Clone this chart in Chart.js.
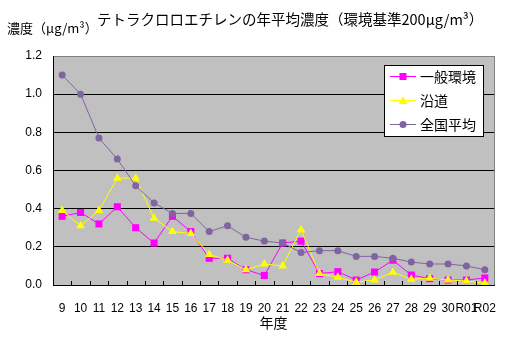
<!DOCTYPE html>
<html>
<head>
<meta charset="utf-8">
<script src="https://cdn.jsdelivr.net/npm/chart.js@4.4.0/dist/chart.umd.min.js"></script>
<style>
    body { margin: 0; background: #fff; }
    #wrap { position: relative; width: 507px; height: 337px; }
    .txt { position: absolute; font-family: "Noto Sans CJK JP", sans-serif; color: #000; line-height: 1; white-space: nowrap; }
    #title { left: 97px; top: 12px; font-size: 14.5px; }
    #ylabel { left: 7px; top: 21px; font-size: 13px; }
</style>
</head>
<body>
<div id="wrap">
    <canvas id="ProgressChart" width="507" height="337"></canvas>
    <div id="title" class="txt">テトラクロロエチレンの年平均濃度（環境基準200μg/m³）</div>
    <div id="ylabel" class="txt">濃度（μg/m³）</div>
</div>
<script>
const years = ["9", "10", "11", "12", "13", "14", "15", "16", "17", "18", "19", "20",
    "21", "22", "23", "24", "25", "26", "27", "28", "29", "30", "R01", "R02"];
const general = [0.36, 0.38, 0.32, 0.41, 0.30, 0.22, 0.36, 0.28, 0.14, 0.14, 0.08, 0.05,
    0.22, 0.23, 0.06, 0.07, 0.026, 0.068, 0.13, 0.052, 0.033, 0.026, 0.026, 0.037];
const roadside = [0.39, 0.31, 0.39, 0.56, 0.56, 0.35, 0.28, 0.27, 0.16, 0.13, 0.08, 0.11,
    0.10, 0.29, 0.06, 0.04, 0.015, 0.026, 0.067, 0.03, 0.035, 0.026, 0.021, 0.009];
const national = [1.10, 1.00, 0.77, 0.66, 0.52, 0.43, 0.375, 0.375, 0.28, 0.31, 0.25, 0.23,
    0.22, 0.17, 0.18, 0.18, 0.15, 0.15, 0.14, 0.12, 0.11, 0.11, 0.10, 0.08];
const yTicks = [0, 0.2, 0.4, 0.6, 0.8, 1.0, 1.2];

const jpFont = '"Noto Sans CJK JP", sans-serif';
const numFont = '"Liberation Sans", Arial, sans-serif';

// grey plot area, right border, inward ticks on the x axis
const plotDecor = {
    id: "plotDecor",
    beforeDraw(chart) {
        const { ctx, chartArea: a } = chart;
        ctx.save();
        ctx.fillStyle = "#c0c0c0";
        ctx.fillRect(a.left, a.top, a.right - a.left, a.bottom - a.top);
        ctx.restore();
    },
    afterDraw(chart) {
        const { ctx, chartArea: a } = chart;
        const x = chart.scales.x;
        ctx.save();
        ctx.strokeStyle = "#808080";
        ctx.lineWidth = 1;
        ctx.beginPath();
        ctx.moveTo(Math.round(a.right) + 0.5, a.top);
        ctx.lineTo(Math.round(a.right) + 0.5, a.bottom);
        ctx.stroke();
        ctx.strokeStyle = "#000";
        ctx.beginPath();
        for (let i = 1; i < years.length; i++) {
            const px = Math.round((x.getPixelForTick(i - 1) + x.getPixelForTick(i)) / 2) + 0.5;
            ctx.moveTo(px, a.bottom);
            ctx.lineTo(px, a.bottom - 4);
        }
        ctx.stroke();
        ctx.restore();
    }
};

// boxed legend inside the plot, top right
const boxLegend = {
    id: "boxLegend",
    afterDraw(chart) {
        const { ctx, chartArea: a } = chart;
        const w = 99, h = 71;
        const left = Math.round(a.right) - 11 - w, top = Math.round(a.top) + 9;
        ctx.save();
        ctx.fillStyle = "#fff";
        ctx.fillRect(left, top, w, h);
        ctx.strokeStyle = "#000";
        ctx.lineWidth = 1;
        ctx.strokeRect(left + 0.5, top + 0.5, w, h);
        chart.data.datasets.forEach((ds, i) => {
            const y = top + 11 + i * 24;
            ctx.strokeStyle = ds.borderColor;
            ctx.beginPath();
            ctx.moveTo(left + 6, y + 0.5);
            ctx.lineTo(left + 32, y + 0.5);
            ctx.stroke();
            ctx.fillStyle = ds.pointBackgroundColor;
            const cx = left + 19;
            if (ds.pointStyle === "rect") {
                ctx.fillRect(cx - 3.5, y - 3, 7, 7);
            } else if (ds.pointStyle === "triangle") {
                ctx.beginPath();
                ctx.moveTo(cx, y - 4);
                ctx.lineTo(cx + 4.5, y + 4);
                ctx.lineTo(cx - 4.5, y + 4);
                ctx.closePath();
                ctx.fill();
            } else {
                ctx.beginPath();
                ctx.arc(cx, y + 0.5, 3.5, 0, Math.PI * 2);
                ctx.fill();
            }
            ctx.fillStyle = "#000";
            ctx.font = "14px " + jpFont;
            ctx.textBaseline = "middle";
            ctx.fillText(ds.label, left + 36, y + 1);
        });
        ctx.restore();
    }
};

const ctx = document.getElementById("ProgressChart").getContext("2d");
const chart = new Chart(ctx, {
    type: "line",
    data: {
        labels: years,
        datasets: [
            {
                label: "一般環境",
                data: general,
                borderColor: "#ff00ff",
                backgroundColor: "#ff00ff",
                pointBackgroundColor: "#ff00ff",
                pointBorderWidth: 0,
                pointStyle: "rect",
                pointRadius: 5,
                borderWidth: 1,
                order: 2
            },
            {
                label: "沿道",
                data: roadside,
                borderColor: "#ffff00",
                backgroundColor: "#ffff00",
                pointBackgroundColor: "#ffff00",
                pointBorderWidth: 0,
                pointStyle: "triangle",
                pointRadius: 5,
                borderWidth: 1,
                order: 1
            },
            {
                label: "全国平均",
                data: national,
                borderColor: "#8064a2",
                backgroundColor: "#8064a2",
                pointBackgroundColor: "#8064a2",
                pointBorderWidth: 0,
                pointStyle: "circle",
                pointRadius: 3.5,
                borderWidth: 1,
                order: 0
            }
        ]
    },
    options: {
        responsive: false,
        animation: false,
        devicePixelRatio: 1,
        layout: { padding: { left: 0, top: 56, right: 13, bottom: 0 } },
        plugins: {
            legend: { display: false },
            tooltip: { enabled: false },
            title: { display: false }
        },
        scales: {
            x: {
                offset: true,
                grid: { display: false },
                border: { display: true, color: "#000", width: 1 },
                ticks: {
                    autoSkip: false,
                    maxRotation: 0,
                    color: "#000",
                    padding: 8,
                    font: { family: numFont, size: 12 }
                },
                title: {
                    display: true,
                    text: "年度",
                    color: "#000",
                    font: { family: jpFont, size: 14 },
                    padding: { top: 0, bottom: 6 }
                },
                afterFit(scale) { scale.height = 52; }
            },
            y: {
                min: 0,
                max: 1.2,
                afterBuildTicks(scale) { scale.ticks = yTicks.map(v => ({ value: v })); },
                grid: {
                    drawTicks: false,
                    color: c => (c.tick && c.tick.value === 1.2 ? "#808080" : "#000")
                },
                border: { display: true, color: "#000", width: 1 },
                ticks: {
                    color: "#000",
                    padding: 11,
                    font: { family: numFont, size: 12 },
                    callback: v => Number(v).toFixed(1)
                },
                afterFit(scale) { scale.width = 53; }
            }
        }
    },
    plugins: [plotDecor, boxLegend]
});
</script>
</body>
</html>
